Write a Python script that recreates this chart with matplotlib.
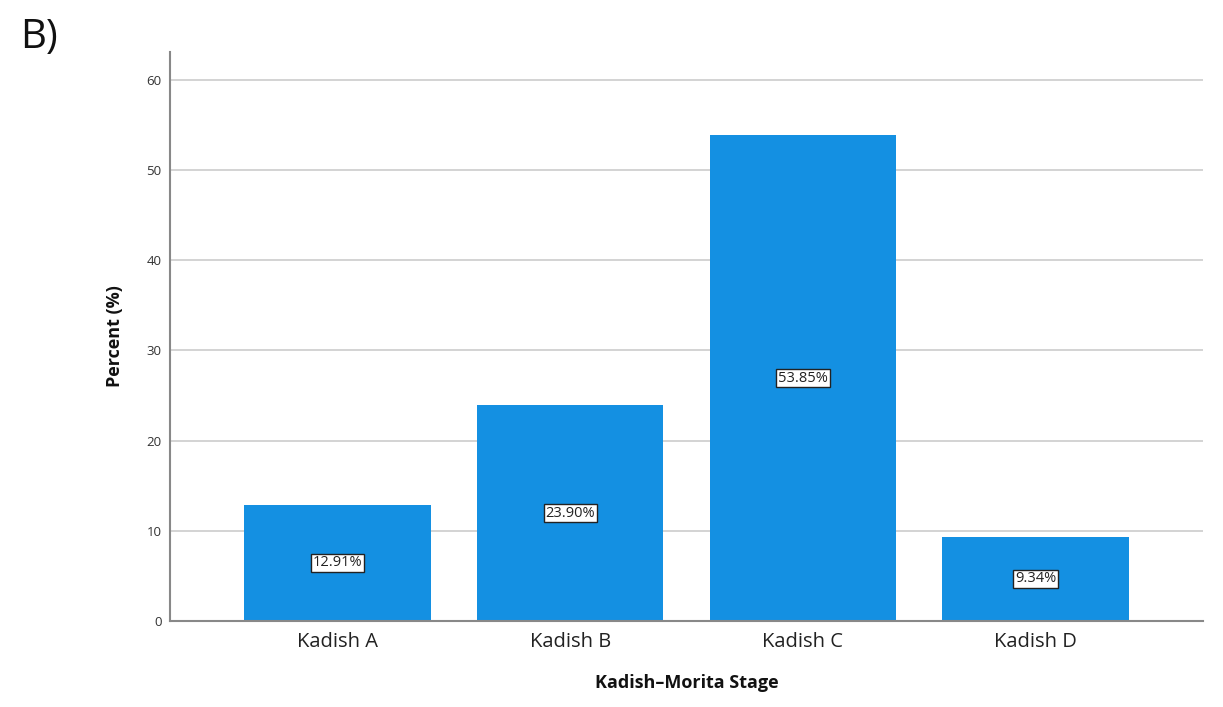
import matplotlib
matplotlib.use("Agg")
import matplotlib.pyplot as plt

categories = ["Kadish A", "Kadish B", "Kadish C", "Kadish D"]
percent = [12.91, 23.90, 53.85, 9.34]
yticks = [0, 10, 20, 30, 40, 50, 60]

plt.rcParams['font.family'] = ['Open Sans', 'DejaVu Sans']

fig = plt.figure(figsize=(12.23, 7.07), dpi=100)
ax = fig.add_axes([170/1223, 1-621/707, (1203-170)/1223, (621-52)/707])

x = range(len(categories))
bars = ax.bar(x, percent, width=0.8, color="#1490E2", zorder=3)
ax.set_xlim(-0.72, 3.72)
ax.set_ylim(0, 63.1)
ax.set_yticks(yticks)
ax.set_xticks(list(x))
ax.set_xticklabels(categories, fontsize=14.5, color="#222222")
ax.tick_params(axis='x', length=0, pad=8)
ax.tick_params(axis='y', length=0, pad=6, labelsize=9.5, labelcolor="#333333")
ax.grid(axis='y', color="#cccccc", linewidth=1.2, zorder=0)

for s in ["top", "right"]:
    ax.spines[s].set_visible(False)
for s in ["left", "bottom"]:
    ax.spines[s].set_color("#888888")
    ax.spines[s].set_linewidth(1.5)
    ax.spines[s].set_zorder(4)

for xi, v in zip(x, percent):
    ax.text(xi, v/2, f"{v:.2f}%", ha="center", va="center", fontsize=10.5, color="#222222",
            zorder=5,
            bbox=dict(boxstyle="square,pad=0.12", facecolor="white", edgecolor="#222222", linewidth=1))

ax.set_xlabel("Kadish\u2013Morita Stage", fontsize=13, fontweight="bold", labelpad=16, color="#111111")
ax.set_ylabel("Percent (%)", fontsize=13, fontweight="bold", labelpad=16, color="#111111")

fig.text(20/1223, 1-38/707, "B)", fontsize=29, va="center", ha="left", color="#111111")

fig.savefig("out.png", dpi=100)
